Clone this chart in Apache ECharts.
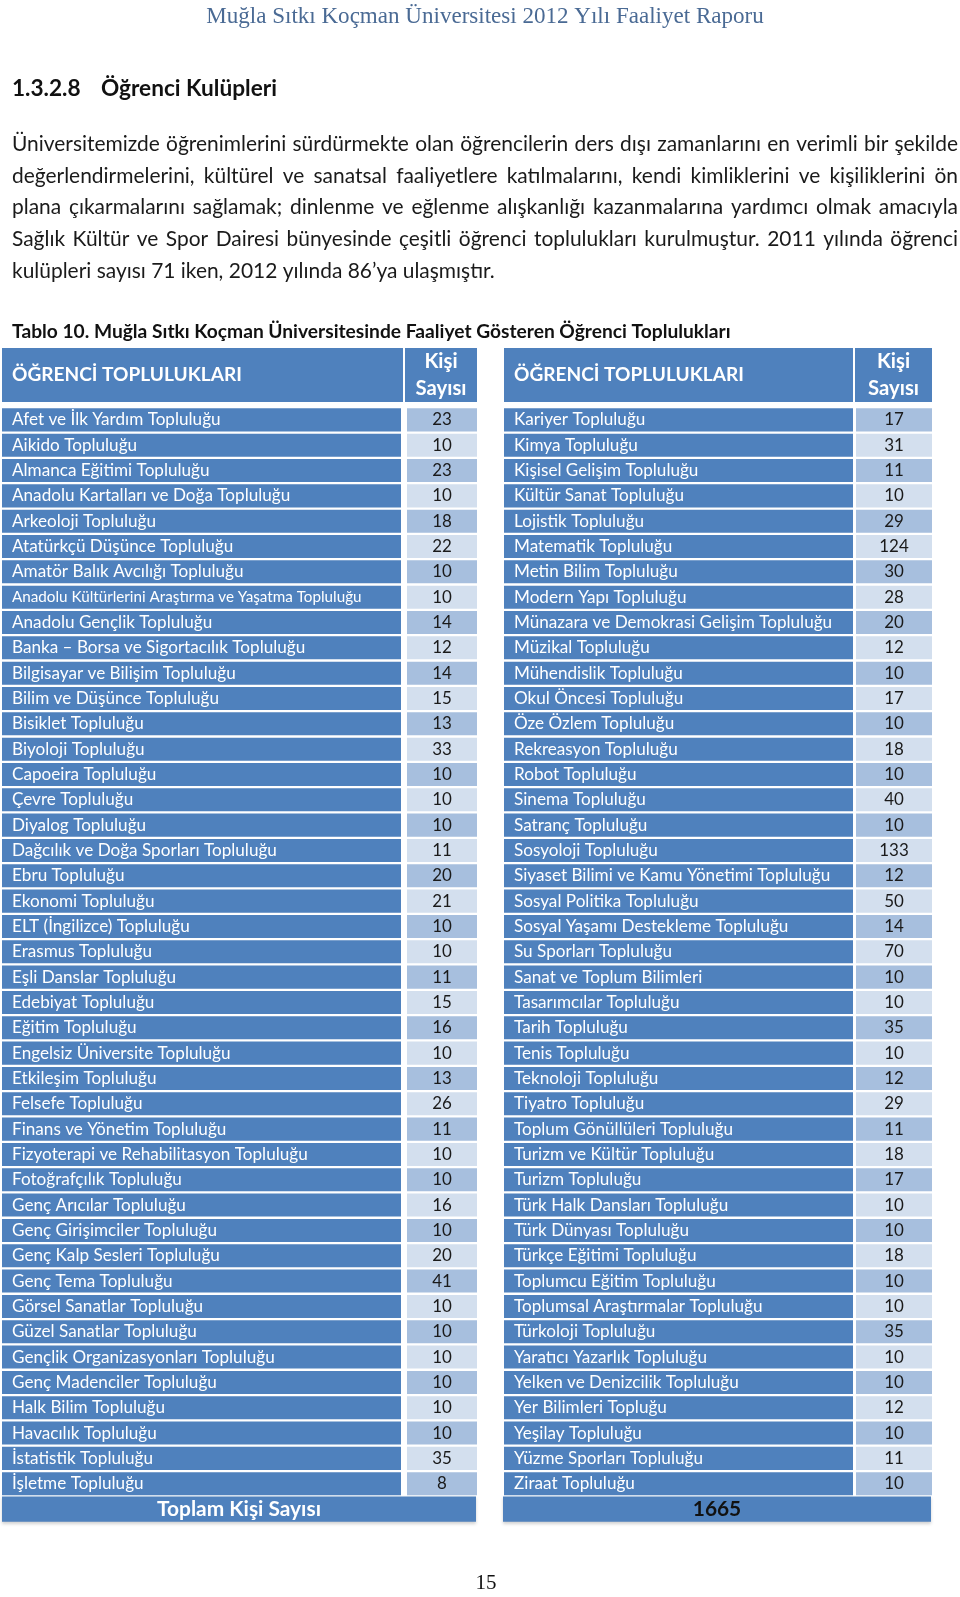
<!DOCTYPE html>
<html>
<head>
<meta charset="utf-8">
<script src="https://cdn.jsdelivr.net/npm/echarts@6.0.0/dist/echarts.min.js"></script>
<style>
    html, body { margin: 0; padding: 0; background: #fff; }
    #chart { width: 960px; height: 1597px; }
</style>
</head>
<body>
<div id="chart"></div>
<script>
// --- data ---
const leftNames = [
    'Afet ve İlk Yardım Topluluğu', 'Aikido Topluluğu', 'Almanca Eğitimi Topluluğu',
    'Anadolu Kartalları ve Doğa Topluluğu', 'Arkeoloji Topluluğu', 'Atatürkçü Düşünce Topluluğu',
    'Amatör Balık Avcılığı Topluluğu', 'Anadolu Kültürlerini Araştırma ve Yaşatma Topluluğu',
    'Anadolu Gençlik Topluluğu', 'Banka – Borsa ve Sigortacılık Topluluğu',
    'Bilgisayar ve Bilişim Topluluğu', 'Bilim ve Düşünce Topluluğu', 'Bisiklet Topluluğu',
    'Biyoloji Topluluğu', 'Capoeira Topluluğu', 'Çevre Topluluğu', 'Diyalog Topluluğu',
    'Dağcılık ve Doğa Sporları Topluluğu', 'Ebru Topluluğu', 'Ekonomi Topluluğu',
    'ELT (İngilizce) Topluluğu', 'Erasmus Topluluğu', 'Eşli Danslar Topluluğu',
    'Edebiyat Topluluğu', 'Eğitim Topluluğu', 'Engelsiz Üniversite Topluluğu',
    'Etkileşim Topluluğu', 'Felsefe Topluluğu', 'Finans ve Yönetim Topluluğu',
    'Fizyoterapi ve Rehabilitasyon Topluluğu', 'Fotoğrafçılık Topluluğu', 'Genç Arıcılar Topluluğu',
    'Genç Girişimciler Topluluğu', 'Genç Kalp Sesleri Topluluğu', 'Genç Tema Topluluğu',
    'Görsel Sanatlar Topluluğu', 'Güzel Sanatlar Topluluğu', 'Gençlik Organizasyonları Topluluğu',
    'Genç Madenciler Topluluğu', 'Halk Bilim Topluluğu', 'Havacılık Topluluğu',
    'İstatistik Topluluğu', 'İşletme Topluluğu'
]
const leftCounts = [23, 10, 23, 10, 18, 22, 10, 10, 14, 12, 14, 15, 13, 33, 10, 10, 10, 11, 20, 21, 10, 10,
    11, 15, 16, 10, 13, 26, 11, 10, 10, 16, 10, 20, 41, 10, 10, 10, 10, 10, 10, 35, 8]

const rightNames = [
    'Kariyer Topluluğu', 'Kimya Topluluğu', 'Kişisel Gelişim Topluluğu', 'Kültür Sanat Topluluğu',
    'Lojistik Topluluğu', 'Matematik Topluluğu', 'Metin Bilim Topluluğu', 'Modern Yapı Topluluğu',
    'Münazara ve Demokrasi Gelişim Topluluğu', 'Müzikal Topluluğu', 'Mühendislik Topluluğu',
    'Okul Öncesi Topluluğu', 'Öze Özlem Topluluğu', 'Rekreasyon Topluluğu', 'Robot Topluluğu',
    'Sinema Topluluğu', 'Satranç Topluluğu', 'Sosyoloji Topluluğu',
    'Siyaset Bilimi ve Kamu Yönetimi Topluluğu', 'Sosyal Politika Topluluğu',
    'Sosyal Yaşamı Destekleme Topluluğu', 'Su Sporları Topluluğu', 'Sanat ve Toplum Bilimleri',
    'Tasarımcılar Topluluğu', 'Tarih Topluluğu', 'Tenis Topluluğu', 'Teknoloji Topluluğu',
    'Tiyatro Topluluğu', 'Toplum Gönüllüleri Topluluğu', 'Turizm ve Kültür Topluluğu',
    'Turizm Topluluğu', 'Türk Halk Dansları Topluluğu', 'Türk Dünyası Topluluğu',
    'Türkçe Eğitimi Topluluğu', 'Toplumcu Eğitim Topluluğu', 'Toplumsal Araştırmalar Topluluğu',
    'Türkoloji Topluluğu', 'Yaratıcı Yazarlık Topluluğu', 'Yelken ve Denizcilik Topluluğu',
    'Yer Bilimleri Topluğu', 'Yeşilay Topluluğu', 'Yüzme Sporları Topluluğu', 'Ziraat Topluluğu'
]
const rightCounts = [17, 31, 11, 10, 29, 124, 30, 28, 20, 12, 10, 17, 10, 18, 10, 40, 10, 133, 12, 50, 14, 70,
    10, 10, 35, 10, 12, 29, 11, 18, 17, 10, 10, 18, 10, 10, 35, 10, 10, 12, 10, 11, 10]

const headerLabels = ['ÖĞRENCİ TOPLULUKLARI', 'Kişi', 'Sayısı']
const totalLabel = 'Toplam Kişi Sayısı'
const totalValue = 1665

const pageTitle = 'Muğla Sıtkı Koçman Üniversitesi 2012 Yılı Faaliyet Raporu'
const sectionNumber = '1.3.2.8'
const sectionTitle = 'Öğrenci Kulüpleri'
const paragraphLines = [
    'Üniversitemizde öğrenimlerini sürdürmekte olan öğrencilerin ders dışı zamanlarını en verimli bir şekilde',
    'değerlendirmelerini, kültürel ve sanatsal faaliyetlere katılmalarını, kendi kimliklerini ve kişiliklerini ön',
    'plana çıkarmalarını sağlamak; dinlenme ve eğlenme alışkanlığı kazanmalarına yardımcı olmak amacıyla',
    'Sağlık Kültür ve Spor Dairesi bünyesinde çeşitli öğrenci toplulukları kurulmuştur. 2011 yılında öğrenci',
    'kulüpleri sayısı 71 iken, 2012 yılında 86’ya ulaşmıştır.',
]
const tableCaption = 'Tablo 10. Muğla Sıtkı Koçman Üniversitesinde Faaliyet Gösteren Öğrenci Toplulukları'
const pageNumber = '15'

// --- style ---
const SANS = 'Lato'
const SERIF = 'Liberation Serif'
const BLUE = '#4f81bd'
const BAND_DARK = '#a7bfde'
const BAND_LIGHT = '#d3dfee'
const ROW_PITCH = 25.33
const TABLE_TOP = 407.2
const ROW_GAP = 0.045
const COLUMNS = [
    { name: [2, 401], count: [407, 477], head: [2, 403, 405, 477], textX: 12 },
    { name: [504, 853], count: [856, 932], head: [504, 853, 855, 932], textX: 514 },
]
const TOTAL_BOXES = [[2, 476], [503, 931]]

const measureCtx = document.createElement('canvas').getContext('2d')
const textWidth = (text, size, weight, family) => {
    measureCtx.font = `${weight} ${size}px ${family}`
    return measureCtx.measureText(text).width
}
const fitSize = (text, weight, family, target) => 20 * target / textWidth(text, 20, weight, family)

const nameSize = fitSize('Fizyoterapi ve Rehabilitasyon Topluluğu', 'normal', SANS, 296)
const smallNameSize = fitSize('Anadolu Kültürlerini Araştırma ve Yaşatma Topluluğu', 'normal', SANS, 350)
const countSize = fitSize('124', 'normal', SANS, 29.5)
const headSize = fitSize(headerLabels[0], 'bold', SANS, 230)
const kisiSize = fitSize(headerLabels[2], 'bold', SANS, 51)
const totalSize = fitSize(totalLabel, 'bold', SANS, 164)
const captionSize = fitSize(tableCaption, 'bold', SANS, 719)
const sectionSize = fitSize(sectionTitle, 'bold', SANS, 176)
const paraSize = fitSize(paragraphLines[4], 'normal', SANS, 483)
const titleSize = fitSize(pageTitle, 'normal', SERIF, 558)

const rect = (p0, p1, fill, extra) => ({
    type: 'rect',
    shape: { x: p0[0], y: p0[1], width: p1[0] - p0[0], height: p1[1] - p0[1] },
    style: Object.assign({ fill }, extra || {}),
})
const label = (x, y, text, size, fill, weight, align) => ({
    type: 'text',
    x, y,
    style: {
        text, fill, fontSize: size, fontFamily: SANS, fontWeight: weight || 'normal',
        align: align || 'left', verticalAlign: 'middle',
    },
})

// --- justified paragraph, word by word ---
const paragraphGraphic = []
paragraphLines.forEach((line, i) => {
    const y = 144.6 + i * 31.55
    if (i === paragraphLines.length - 1) {
        paragraphGraphic.push(label(12, y, line, paraSize, '#1a1a1a'))
        return
    }
    const words = line.split(' ')
    const widths = words.map(w => textWidth(w, paraSize, 'normal', SANS))
    const gap = (958 - 12 - widths.reduce((a, b) => a + b, 0)) / (words.length - 1)
    let x = 12
    words.forEach((w, k) => {
        paragraphGraphic.push(label(x, y, w, paraSize, '#1a1a1a'))
        x += widths[k] + gap
    })
})

const bodyData = []
leftNames.forEach((_, i) => bodyData.push([i, 0]))
rightNames.forEach((_, i) => bodyData.push([i, 1]))

const chart = echarts.init(document.getElementById('chart'))
chart.setOption({
    animation: false,
    backgroundColor: '#fff',
    grid: { left: 0, right: 0, top: TABLE_TOP, height: ROW_PITCH * 44 },
    xAxis: { type: 'value', min: 0, max: 960, show: false },
    yAxis: { type: 'value', min: 0, max: 44, inverse: true, show: false },
    graphic: [
        {
            type: 'text', x: 485, y: 17,
            style: { text: pageTitle, fill: '#4a6a94', fontSize: titleSize, fontFamily: SERIF, align: 'center', verticalAlign: 'middle' },
        },
        label(12, 89, sectionNumber, sectionSize, '#111', 'bold'),
        label(101, 89, sectionTitle, sectionSize, '#111', 'bold'),
        ...paragraphGraphic,
        label(12, 332, tableCaption, captionSize, '#111', 'bold'),
        {
            type: 'text', x: 486, y: 1583,
            style: { text: pageNumber, fill: '#111', fontSize: 21, fontFamily: SERIF, align: 'center', verticalAlign: 'middle' },
        },
    ],
    series: [
        {
            // header cells
            type: 'custom',
            silent: true,
            clip: false,
            data: [[0], [1]],
            renderItem: (params, api) => {
                const col = COLUMNS[api.value(0)]
                const h = col.head
                const top = -2.337
                const bottom = -0.205
                const a = api.coord([h[0], top])
                const b = api.coord([h[1], bottom])
                const c = api.coord([h[2], top])
                const d = api.coord([h[3], bottom])
                const midY = (a[1] + b[1]) / 2
                const cx = (c[0] + d[0]) / 2
                return {
                    type: 'group',
                    children: [
                        rect(a, b, BLUE),
                        rect(c, d, BLUE),
                        label(api.coord([col.textX, 0])[0], midY, headerLabels[0], headSize, '#fff', 'bold'),
                        label(cx, midY - 13.5, headerLabels[1], kisiSize, '#fff', 'bold', 'center'),
                        label(cx, midY + 13.5, headerLabels[2], kisiSize, '#fff', 'bold', 'center'),
                    ],
                }
            },
        },
        {
            // body rows
            type: 'custom',
            silent: true,
            clip: false,
            data: bodyData,
            renderItem: (params, api) => {
                const row = api.value(0)
                const side = api.value(1)
                const col = COLUMNS[side]
                const name = (side ? rightNames : leftNames)[row]
                const count = (side ? rightCounts : leftCounts)[row]
                const n0 = api.coord([col.name[0], row + ROW_GAP])
                const n1 = api.coord([col.name[1], row + 1 - ROW_GAP])
                const c0 = api.coord([col.count[0], row + ROW_GAP])
                const c1 = api.coord([col.count[1], row + 1 - ROW_GAP])
                const midY = (n0[1] + n1[1]) / 2
                const size = name.length > 45 ? smallNameSize : nameSize
                return {
                    type: 'group',
                    children: [
                        rect(n0, n1, BLUE),
                        rect(c0, c1, row % 2 === 0 ? BAND_DARK : BAND_LIGHT),
                        label(api.coord([col.textX, row])[0], midY, name, size, '#fff'),
                        label((c0[0] + c1[0]) / 2, midY, String(count), countSize, '#1a1a1a', 'normal', 'center'),
                    ],
                }
            },
        },
        {
            // total row
            type: 'custom',
            silent: true,
            clip: false,
            data: [[0], [1]],
            renderItem: (params, api) => {
                const side = api.value(0)
                const box = TOTAL_BOXES[side]
                const p0 = api.coord([box[0], 43])
                const p1 = api.coord([box[1], 44])
                const text = side ? String(totalValue) : totalLabel
                return {
                    type: 'group',
                    children: [
                        rect(p0, p1, BLUE, { shadowBlur: 3, shadowOffsetY: 2, shadowColor: 'rgba(0,0,0,0.18)' }),
                        label((p0[0] + p1[0]) / 2, (p0[1] + p1[1]) / 2, text, totalSize,
                            side ? '#111' : '#fff', 'bold', 'center'),
                    ],
                }
            },
        },
    ],
})
</script>
</body>
</html>
